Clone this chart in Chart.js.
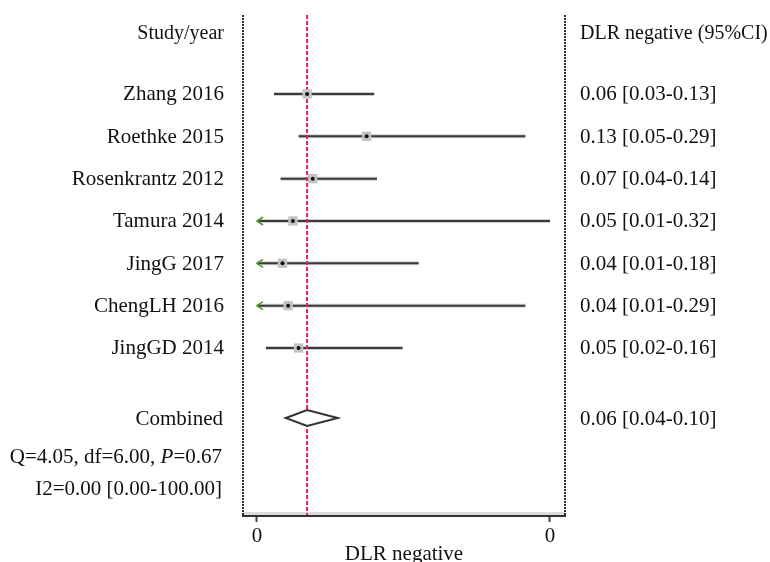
<!DOCTYPE html>
<html><head><meta charset="utf-8">
<script src="https://cdn.jsdelivr.net/npm/chart.js@4/dist/chart.umd.min.js"></script>
<style>html,body{margin:0;padding:0;background:#fff}#wrap{width:770px;height:562px;position:relative}</style>
</head><body><div id="wrap"><canvas id="c" width="770" height="562"></canvas></div>
<script>
// ---- data ----
const studies = ['Zhang 2016','Roethke 2015','Rosenkrantz 2012','Tamura 2014','JingG 2017','ChengLH 2016','JingGD 2014'];
const estimate = [0.063, 0.126, 0.069, 0.048, 0.037, 0.043, 0.054];
const lower    = [0.028, 0.054, 0.035, 0.009, 0.008, 0.008, 0.0195];
const upper    = [0.134, 0.294, 0.137, 0.320, 0.181, 0.294, 0.164];
const ciLabels = ['0.06 [0.03-0.13]','0.13 [0.05-0.29]','0.07 [0.04-0.14]','0.05 [0.01-0.32]','0.04 [0.01-0.18]','0.04 [0.01-0.29]','0.05 [0.02-0.16]'];
const pooledName  = ['Combined'];
const pooledEst   = [0.063];
const pooledLower = [0.0405];
const pooledUpper = [0.0955];
const pooledLabel = ['0.06 [0.04-0.10]'];
const xTickValues = [0.01, 0.32];
const xTickLabels = ['0', '0'];
const headerLeft  = 'Study/year';
const headerRight = 'DLR negative (95%CI)';
const xTitle      = 'DLR negative';
const statQ  = [['Q=4.05, df=6.00, ', false], ['P', true], ['=0.67', false]];
const statI2 = 'I2=0.00 [0.00-100.00]';

// ---- layout (row positions in y-scale units) ----
const ROW_HEADER = -1.441, ROW_POOLED = 7.654, ROW_Q = 8.575, ROW_I2 = 9.331;
const FONT = '21px "Liberation Serif"';
const FONT_H = '20px "Liberation Serif"';
const FONT_I = 'italic 21px "Liberation Serif"';
const LEFT_TEXT_X = 224, RIGHT_TEXT_X = 580, BASE_OFF = 6.5;

const forestPlugin = {
  id: 'forest',
  beforeDatasetsDraw(chart) {
    const {ctx, chartArea: a, scales: {x, y}} = chart;
    const xmin = xTickValues[0];
    ctx.save();
    // light band above the axis line
    ctx.fillStyle = '#dcdcdc';
    ctx.fillRect(a.left, a.bottom - 4, a.right - a.left, 3);
    studies.forEach((s, i) => {
      const py = y.getPixelForValue(i);
      const x0 = x.getPixelForValue(Math.max(lower[i], xmin));
      const x1 = x.getPixelForValue(upper[i]);
      ctx.setLineDash([]);
      ctx.strokeStyle = 'rgba(170,170,170,0.55)'; ctx.lineWidth = 4;
      ctx.beginPath(); ctx.moveTo(x0, py); ctx.lineTo(x1, py); ctx.stroke();
      ctx.strokeStyle = '#3a3a3a'; ctx.lineWidth = 2;
      ctx.beginPath(); ctx.moveTo(x0, py); ctx.lineTo(x1, py); ctx.stroke();
      if (lower[i] < xmin) {
        ctx.strokeStyle = '#4f9a2e'; ctx.lineWidth = 1.6;
        ctx.beginPath(); ctx.moveTo(x0 + 6, py - 4); ctx.lineTo(x0, py); ctx.lineTo(x0 + 6, py + 4); ctx.stroke();
      }
    });
    // pooled estimate reference line
    const rx = x.getPixelForValue(pooledEst[0]);
    ctx.setLineDash([4, 2]); ctx.strokeStyle = '#e2205c'; ctx.lineWidth = 2;
    ctx.beginPath(); ctx.moveTo(rx, a.top); ctx.lineTo(rx, a.bottom - 1); ctx.stroke();
    ctx.restore();
  },
  afterDatasetsDraw(chart) {
    const {ctx, chartArea: a, scales: {x, y}} = chart;
    ctx.save();
    // pooled diamond
    const dy = y.getPixelForValue(ROW_POOLED);
    const dl = x.getPixelForValue(pooledLower[0]), dr = x.getPixelForValue(pooledUpper[0]), dc = x.getPixelForValue(pooledEst[0]);
    ctx.setLineDash([]);
    ctx.fillStyle = '#fff'; ctx.strokeStyle = '#333'; ctx.lineWidth = 2;
    ctx.beginPath(); ctx.moveTo(dl, dy); ctx.lineTo(dc, dy - 8); ctx.lineTo(dr, dy); ctx.lineTo(dc, dy + 8); ctx.closePath();
    ctx.fill(); ctx.stroke();
    // dotted side borders
    ctx.setLineDash([2, 1]); ctx.strokeStyle = '#2e2e2e'; ctx.lineWidth = 2;
    [a.left, a.right].forEach(px => { ctx.beginPath(); ctx.moveTo(px, a.top); ctx.lineTo(px, a.bottom); ctx.stroke(); });
    ctx.setLineDash([]);
    // texts
    ctx.fillStyle = '#111'; ctx.textBaseline = 'alphabetic';
    const put = (t, row, align, px) => { ctx.textAlign = align; ctx.fillText(t, px, y.getPixelForValue(row) + BASE_OFF); };
    ctx.font = FONT_H;
    put(headerLeft, ROW_HEADER, 'right', LEFT_TEXT_X);
    put(headerRight, ROW_HEADER, 'left', RIGHT_TEXT_X);
    ctx.font = FONT;
    studies.forEach((s, i) => { put(s, i, 'right', LEFT_TEXT_X); put(ciLabels[i], i, 'left', RIGHT_TEXT_X); });
    put(pooledName[0], ROW_POOLED, 'right', LEFT_TEXT_X - 1);
    put(pooledLabel[0], ROW_POOLED, 'left', RIGHT_TEXT_X);
    put(statI2, ROW_I2, 'right', LEFT_TEXT_X - 2);
    // Q line with italic P
    let total = 0;
    statQ.forEach(([t, it]) => { ctx.font = it ? FONT_I : FONT; total += ctx.measureText(t).width; });
    let sx = LEFT_TEXT_X - 2 - total;
    const qy = y.getPixelForValue(ROW_Q) + BASE_OFF;
    ctx.textAlign = 'left';
    statQ.forEach(([t, it]) => { ctx.font = it ? FONT_I : FONT; ctx.fillText(t, sx, qy); sx += ctx.measureText(t).width; });
    ctx.restore();
  }
};

new Chart(document.getElementById('c'), {
  type: 'scatter',
  data: {
    datasets: [
      { data: estimate.map((v, i) => ({x: v, y: i})), pointStyle: 'circle', pointRadius: 2, pointHoverRadius: 2,
        backgroundColor: '#111', borderWidth: 0 },
      { data: estimate.map((v, i) => ({x: v, y: i})), pointStyle: 'rect', pointRadius: 6.6, pointHoverRadius: 6.6,
        backgroundColor: '#c3c3c3', borderWidth: 0 }
    ]
  },
  options: {
    responsive: false, animation: false, devicePixelRatio: 1, events: [],
    layout: { padding: { left: 243, right: 205, top: 15, bottom: 0 } },
    plugins: { legend: { display: false }, tooltip: { enabled: false } },
    scales: {
      x: {
        type: 'linear', min: -0.0048, max: 0.3359,
        afterBuildTicks: s => { s.ticks = xTickValues.map(v => ({value: v})); },
        afterFit: s => { s.height = 46; },
        ticks: { callback: (v, i) => xTickLabels[i], font: { family: 'Liberation Serif', size: 21 }, color: '#111',
                 padding: 2, maxRotation: 0, autoSkip: false },
        grid: { drawOnChartArea: false, drawTicks: true, tickLength: 6, tickWidth: 2, tickColor: '#444' },
        border: { display: true, color: '#333', width: 2 },
        title: { display: true, text: xTitle, color: '#111', padding: 0,
                 font: { family: 'Liberation Serif', size: 21, lineHeight: 0.76 } }
      },
      y: { type: 'linear', display: false, reverse: true, min: -1.866, max: 9.969 }
    }
  },
  plugins: [forestPlugin]
});
</script>
</body></html>
